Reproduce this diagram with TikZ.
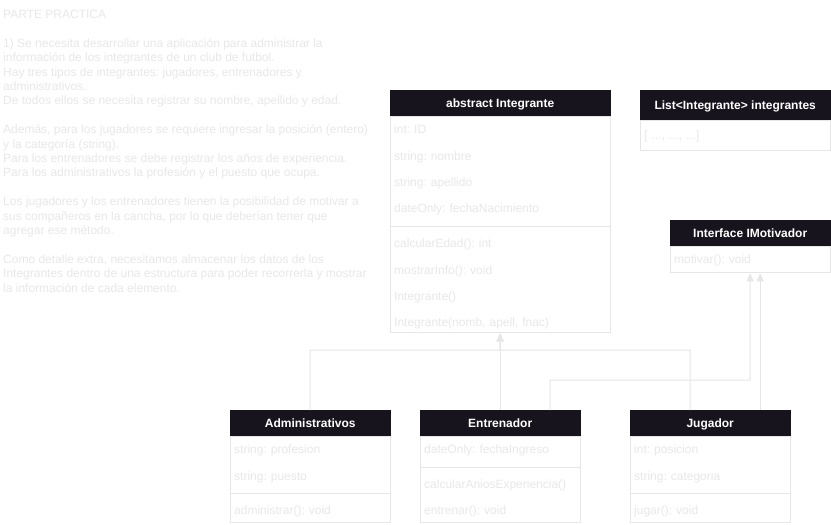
\documentclass[tikz,border=0pt]{standalone}
\usepackage{fontspec}
\setmainfont{Liberation Sans}
\usetikzlibrary{positioning,arrows.meta}
\definecolor{headfill}{HTML}{18141D}
\definecolor{lightline}{HTML}{E6E6E6}
\definecolor{lighttext}{HTML}{E8E8E8}

\begin{document}
\frenchspacing
\begin{tikzpicture}[
	x=1pt, y=-1pt,
	every node/.style={font=\fontsize{12}{14.4}\selectfont},
	head/.style={fill=headfill, draw=headfill, text=white, font=\fontsize{12}{14.4}\selectfont\bfseries, minimum height=26pt, inner sep=0pt, text height=10pt, text depth=2pt, anchor=north west},
	body/.style={draw=lightline, line width=1pt, fill=white, inner sep=0pt},
	member/.style={text=lighttext, text width=#1, inner xsep=4pt, inner ysep=0pt, minimum height=26pt, align=left, text height=10pt, text depth=2pt},
	divider/.style={minimum height=8pt, inner sep=0pt},
	sepline/.style={draw=lightline, line width=1pt},
	desc/.style={text=lighttext, align=left, inner sep=0pt},
	gen/.style={-{Triangle[length=8pt,width=7pt]}, draw=lightline, line width=1pt}
	]
	
	\fill[white] (0,0) rectangle (831,525);
	\useasboundingbox (0,0) rectangle (831,525);
	
	% enunciado
	\node[desc, anchor=north west] (enunciado) at (3,10) {PARTE PRACTICA\\[14.4pt]
		1) Se necesita desarrollar una aplicación para administrar la\\
		información de los integrantes de un club de futbol.\\
		Hay tres tipos de integrantes: jugadores, entrenadores y\\
		administrativos.\\
		De todos ellos se necesita registrar su nombre, apellido y edad.\\[14.4pt]
		Además, para los jugadores se requiere ingresar la posición (entero)\\
		y la categoría (string).\\
		Para los entrenadores se debe registrar los años de experiencia.\\
		Para los administrativos la profesión y el puesto que ocupa.\\[14.4pt]
		Los jugadores y los entrenadores tienen la posibilidad de motivar a\\
		sus compañeros en la cancha, por lo que deberían tener que\\
		agregar ese método.\\[14.4pt]
		Como detalle extra, necesitamos almacenar los datos de los\\
		Integrantes dentro de una estructura para poder recorrerla y mostrar\\
		la información de cada elemento.};
	
	% clase Integrante
	\node[head, minimum width=220pt] (integ) at (390,90) {abstract Integrante};
	\node[body, minimum width=220pt, minimum height=216pt, below=0pt of integ] (integ-b) {};
	\node[member=212pt, below right=0pt of integ.south west] (integ-1) {int: ID};
	\node[member=212pt, below=0pt of integ-1] (integ-2) {string: nombre};
	\node[member=212pt, below=0pt of integ-2] (integ-3) {string: apellido};
	\node[member=212pt, below=0pt of integ-3] (integ-4) {dateOnly: fechaNacimiento};
	\node[divider, minimum width=220pt, below=0pt of integ-4] (integ-d) {};
	\node[member=212pt, below=0pt of integ-d] (integ-5) {calcularEdad(): int};
	\node[member=212pt, below=0pt of integ-5] (integ-6) {mostrarInfo(): void};
	\node[member=212pt, below=0pt of integ-6] (integ-7) {Integrante()};
	\node[member=212pt, below=0pt of integ-7] (integ-8) {Integrante(nomb, apell, fnac)};
	\draw[sepline] (integ-d.west) -- (integ-d.east);
	
	% lista
	\node[head, minimum width=190pt, minimum height=30pt] (lista) at (640,90) {List<Integrante> integrantes};
	\node[body, minimum width=190pt, minimum height=30pt, below=0pt of lista] (lista-b) {};
	\node[member=182pt, minimum height=30pt, below right=0pt of lista.south west] (lista-1) {[ ..., ..., ...]};
	
	% interfaz
	\node[head, minimum width=160pt] (imot) at (670,220) {Interface IMotivador};
	\node[body, minimum width=160pt, minimum height=26pt, below=0pt of imot] (imot-b) {};
	\node[member=152pt, below right=0pt of imot.south west] (imot-1) {motivar(): void};
	
	% Administrativos
	\node[head, minimum width=160pt] (adm) at (230,410) {Administrativos};
	\node[body, minimum width=160pt, minimum height=86pt, below=0pt of adm] (adm-b) {};
	\node[member=152pt, below right=0pt of adm.south west] (adm-1) {string: profesion};
	\node[member=152pt, below=0pt of adm-1] (adm-2) {string: puesto};
	\node[divider, minimum width=160pt, below=0pt of adm-2] (adm-d) {};
	\node[member=152pt, below=0pt of adm-d] (adm-3) {administrar(): void};
	\draw[sepline] (adm-d.west) -- (adm-d.east);
	
	% Entrenador
	\node[head, minimum width=160pt] (entr) at (420,410) {Entrenador};
	\node[body, minimum width=160pt, minimum height=86pt, below=0pt of entr] (entr-b) {};
	\node[member=152pt, below right=0pt of entr.south west] (entr-1) {dateOnly: fechaIngreso};
	\node[divider, minimum width=160pt, below=0pt of entr-1] (entr-d) {};
	\node[member=152pt, below=0pt of entr-d] (entr-2) {calcularAniosExperiencia()};
	\node[member=152pt, below=0pt of entr-2] (entr-3) {entrenar(): void};
	\draw[sepline] (entr-d.west) -- (entr-d.east);
	
	% Jugador
	\node[head, minimum width=160pt] (jug) at (630,410) {Jugador};
	\node[body, minimum width=160pt, minimum height=86pt, below=0pt of jug] (jug-b) {};
	\node[member=152pt, below right=0pt of jug.south west] (jug-1) {int: posicion};
	\node[member=152pt, below=0pt of jug-1] (jug-2) {string: categoria};
	\node[divider, minimum width=160pt, below=0pt of jug-2] (jug-d) {};
	\node[member=152pt, below=0pt of jug-d] (jug-3) {jugar(): void};
	\draw[sepline] (jug-d.west) -- (jug-d.east);
	
	% herencia e interfaz
	\coordinate (bendI) at (500,350);
	\coordinate (bendM) at (750,380);
	\draw[gen] (adm.north) |- (bendI) -- (integ-b.south);
	\draw[gen] ([xshift=-20pt]jug.north) |- (bendI) -- (integ-b.south);
	\draw[gen] (entr.north) -- (integ-b.south);
	\draw[gen] ([xshift=50pt]entr.north) |- (bendM) -- (imot-b.south);
	\draw[gen] ([xshift=50pt]jug.north) -- ([xshift=10pt]imot-b.south);
	
\end{tikzpicture}
\end{document}
